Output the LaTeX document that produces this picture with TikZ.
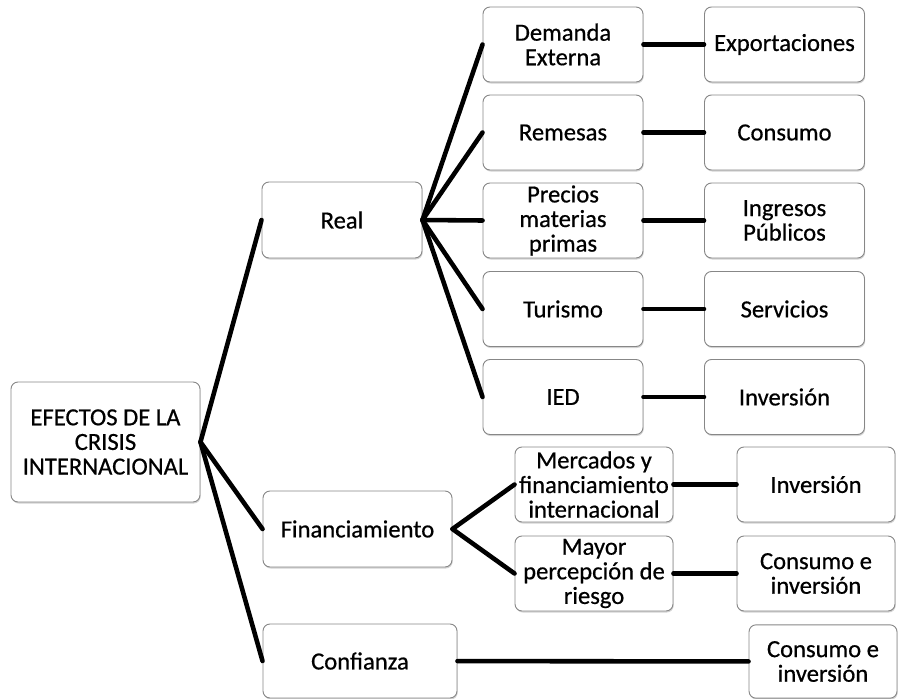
\documentclass[tikz,border=0pt]{standalone}
\usepackage{fontspec}
\setmainfont{Carlito}[FakeBold=0.6]
\usetikzlibrary{shadows}
\definecolor{boxline}{RGB}{135,135,135}
\begin{document}
\begin{tikzpicture}[x=0.03cm,y=-0.03cm,
    box/.style={draw=boxline,line width=0.8pt,fill=white,rounded corners=6pt,
      align=center,inner sep=0pt,font=\fontsize{21}{21}\selectfont,
      drop shadow={opacity=0.35,shadow xshift=0.6pt,shadow yshift=-1.3pt}},
    colbox/.style={box,minimum width=4.8cm,minimum height=2.25cm},
    finbox/.style={box,minimum width=4.74cm,minimum height=2.25cm},
    link/.style={line width=3.9pt,line cap=round}]
  \useasboundingbox (0,0) rectangle (899,698);
  \draw
    (105.5,442) node[box,minimum width=5.67cm,minimum height=3.6cm] (root){EFECTOS DE LA\\CRISIS\\INTERNACIONAL}
    (342,220) node[box,minimum width=4.8cm,minimum height=2.28cm] (real){Real}
    (357.5,529) node[box,minimum width=5.67cm,minimum height=2.28cm] (fin){Financiamiento}
    (360,661) node[box,minimum width=5.82cm,minimum height=2.22cm] (conf){Confianza};
  \draw
    (563,44.5) node[colbox] (dem){Demanda\\Externa}
    (563,132.5) node[colbox] (rem){Remesas}
    (563,220.5) node[colbox] (prec){Precios\\materias\\primas}
    (563,309) node[colbox] (tur){Turismo}
    (563,397) node[colbox] (ied){IED}
    (784.5,44.5) node[colbox] (exp){Exportaciones}
    (784.5,132.5) node[colbox] (cons){Consumo}
    (784.5,220.5) node[colbox] (ingr){Ingresos\\Públicos}
    (784.5,309) node[colbox] (serv){Servicios}
    (784.5,397) node[colbox] (inv){Inversión};
  \draw
    (594,484.5) node[finbox] (merc){Mercados y\\financiamiento\\internacional}
    (594,573.5) node[finbox] (riesgo){Mayor\\percepción de\\riesgo}
    (816,484.5) node[finbox] (invfin){Inversión}
    (816,573.5) node[finbox] (consinv){Consumo e\\inversión}
    (823,661.5) node[box,minimum width=4.44cm,minimum height=2.2cm] (consconf){Consumo e\\inversión};
  \begin{scope}[link]
    \draw (root.east) to (real.west);
    \draw (root.east) to (fin.west);
    \draw (root.east) to (conf.west);
    \draw (real.east) to (dem.west);
    \draw (real.east) to (rem.west);
    \draw (real.east) to (prec.west);
    \draw (real.east) to (tur.west);
    \draw (real.east) to (ied.west);
    \draw (dem) to (exp);
    \draw (rem) to (cons);
    \draw (prec) to (ingr);
    \draw (tur) to (serv);
    \draw (ied) to (inv);
    \draw (fin.east) to (merc.west);
    \draw (fin.east) to (riesgo.west);
    \draw (merc) to (invfin);
    \draw (riesgo) to (consinv);
    \draw (conf) to (consconf);
  \end{scope}
\end{tikzpicture}
\end{document}
